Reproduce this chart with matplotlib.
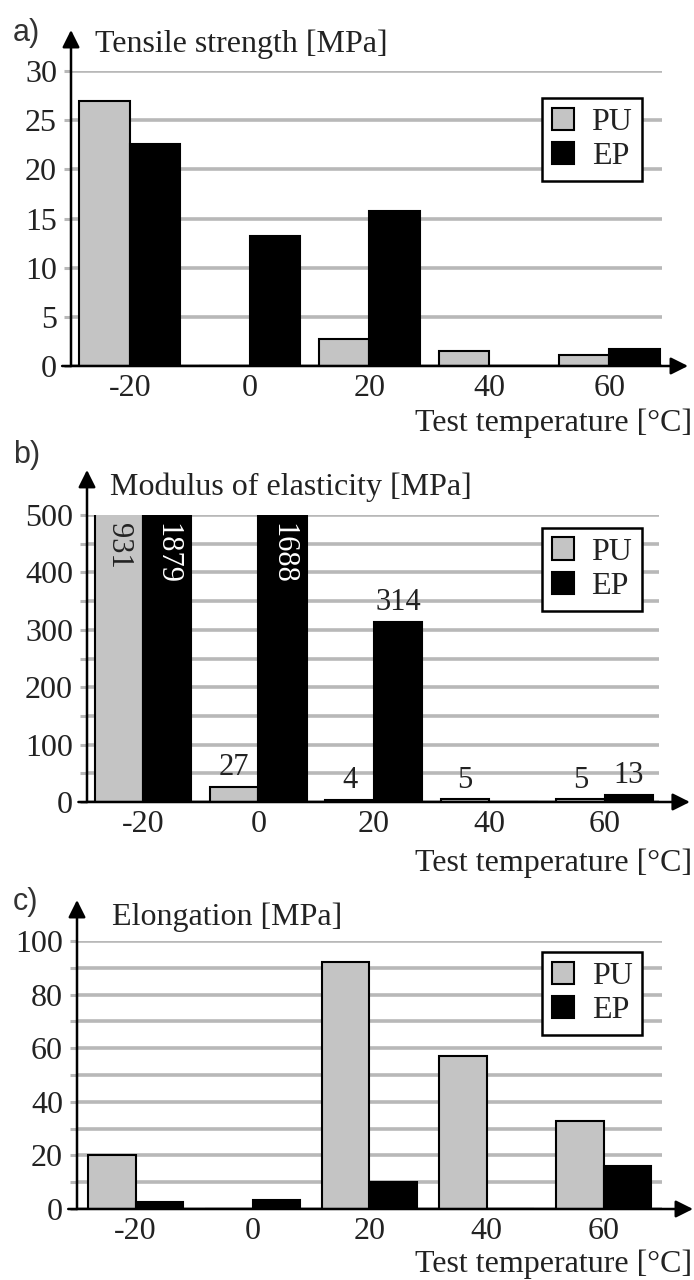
import numpy as np
import matplotlib
matplotlib.use("Agg")
import matplotlib.pyplot as plt

plt.rcParams['font.family'] = ['Liberation Serif', 'DejaVu Serif']

temps = ['-20', '0', '20', '40', '60']

# a) tensile strength
tens_pu = [27.0, 0.0, 2.7, 1.5, 1.1]
tens_ep = [22.6, 13.2, 15.8, 0.0, 1.7]

# b) modulus of elasticity (bars clipped at 500)
mod_pu = [931, 27, 4, 5, 5]
mod_ep = [1879, 1688, 314, 0, 13]

# c) elongation
elo_pu = [20, 0, 92, 57, 33]
elo_ep = [2.5, 3.5, 10, 0, 16]

W, H = 694, 1280
fig = plt.figure(figsize=(W / 100, H / 100), dpi=100)

TXT = '#222222'
GRID = '#b8b8b8'
PU_C = '#c4c4c4'
FS = 23


def px_axes(left, right, top, bottom):
    return fig.add_axes([left / W, 1 - bottom / H, (right - left) / W, (bottom - top) / H])


def setup(ax, ymax, grid_step, label_step, xlim, title, letter, tip_x, tip_y,
          title_px, letter_px, xlab_y, leg_anchor, xlab_va='center'):
    ax.set_xlim(*xlim)
    ax.set_ylim(0, ymax)
    for s in ax.spines.values():
        s.set_visible(False)
    ax.set_yticks(np.arange(grid_step, ymax + 0.01, grid_step), minor=True)
    ax.set_yticks(np.arange(0, ymax + 0.01, label_step))
    ax.yaxis.grid(True, which='both', color=GRID, lw=2.6)
    ax.set_axisbelow(True)
    ax.tick_params(axis='y', which='both', length=5, width=2.2, color=GRID,
                   labelsize=FS, labelcolor=TXT, pad=5)
    ax.tick_params(axis='x', length=0, labelsize=FS, labelcolor=TXT, pad=6)
    ax.set_xticks(range(len(temps)))
    ax.set_xticklabels(temps)
    # axis arrows
    ax.annotate('', xy=(tip_x, 0), xytext=(-0.015, 0),
                xycoords=('axes fraction', 'data'),
                arrowprops=dict(arrowstyle='-|>', mutation_scale=26, lw=1.8,
                                color='k', shrinkA=0, shrinkB=0), annotation_clip=False)
    ax.annotate('', xy=(0, tip_y), xytext=(0, 0), xycoords='axes fraction',
                arrowprops=dict(arrowstyle='-|>', mutation_scale=26, lw=1.8,
                                color='k', shrinkA=0, shrinkB=0), annotation_clip=False)
    fig.text(title_px[0] / W, 1 - title_px[1] / H, title, fontsize=FS, color=TXT,
             va='center', ha='left')
    fig.text(letter_px[0] / W, 1 - letter_px[1] / H, letter, fontsize=22, color='#333333',
             family='Liberation Sans', va='center', ha='left')
    fig.text(692 / W, 1 - xlab_y / H, 'Test temperature [°C]', fontsize=FS, color=TXT,
             va=xlab_va, ha='right')
    leg = ax.legend(loc='upper right', bbox_to_anchor=leg_anchor, borderaxespad=0,
                    fontsize=FS, frameon=True, fancybox=False, edgecolor='k',
                    handlelength=0.7, handleheight=0.7, handletextpad=0.55,
                    borderpad=0.3, labelspacing=0.15)
    leg.get_frame().set_linewidth(1.8)
    leg.get_frame().set_facecolor('white')
    leg.get_frame().set_alpha(1)
    for t in leg.get_texts():
        t.set_color(TXT)


def bars(ax, pu, ep, w):
    x = np.arange(len(temps))
    b1 = ax.bar(x - w / 2, pu, w, color=PU_C, edgecolor='k', lw=1.5, label='PU', zorder=3)
    b2 = ax.bar(x + w / 2, ep, w, color='k', edgecolor='k', lw=1.5, label='EP', zorder=3)
    return x, b1, b2


# panel a
axa = px_axes(71, 662, 71, 366)
bars(axa, tens_pu, tens_ep, 0.42)
setup(axa, 30, 5, 5, (-0.49, 4.44), 'Tensile strength [MPa]', 'a)',
      1.044, 1.139, (95, 44), (13, 33), 423, (0.966, 0.908))

# panel b
axb = px_axes(87, 659, 515, 802)
x, b1, b2 = bars(axb, mod_pu, mod_ep, 0.42)
setup(axb, 500, 50, 100, (-0.485, 4.47), 'Modulus of elasticity [MPa]', 'b)',
      1.054, 1.157, (110, 487), (13, 455), 863, (0.97, 0.955))
w = 0.42
for xs, vals, col_in in ((x - w / 2, mod_pu, TXT), (x + w / 2, mod_ep, 'white')):
    for xi, v in zip(xs, vals):
        if v <= 0:
            continue
        if v > 500:
            axb.text(xi, 486, str(v), rotation=270, ha='center', va='top',
                     fontsize=FS - 1, color=col_in, zorder=5)
        else:
            axb.text(xi, v + 8, str(v), ha='center', va='bottom',
                     fontsize=FS - 1, color=TXT, zorder=5)

# panel c
axc = px_axes(77, 662, 941, 1209)
bars(axc, elo_pu, elo_ep, 0.41)
setup(axc, 100, 10, 20, (-0.5, 4.5), 'Elongation [MPa]', 'c)',
      1.053, 1.153, (112, 917), (13, 902), 1279, (0.966, 0.959), xlab_va='bottom')

fig.savefig('out.png', dpi=100, facecolor='white')
